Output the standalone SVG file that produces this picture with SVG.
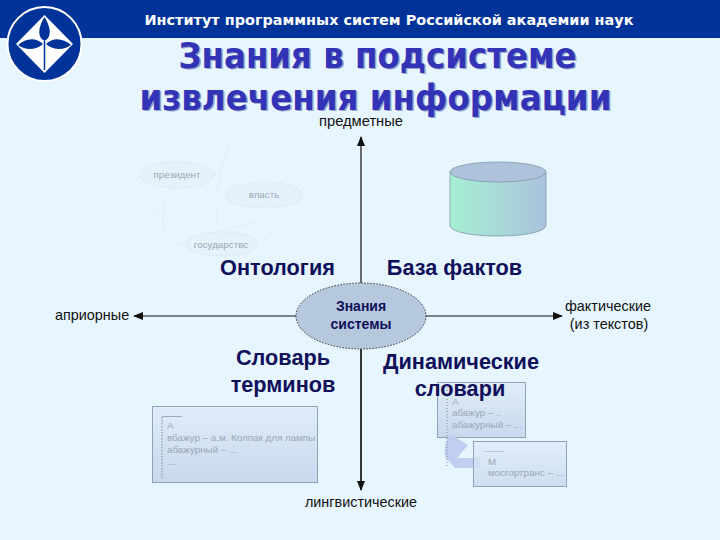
<svg xmlns="http://www.w3.org/2000/svg" width="720" height="540" viewBox="0 0 720 540">
<style>
.h{font-family:"DejaVu Sans","Liberation Sans",sans-serif;font-weight:700}
.a{font-family:"Liberation Sans",Arial,sans-serif}
.ax{font-size:14.4px;fill:#111}
.b{font-size:21.7px;font-weight:700;fill:#10105a;text-anchor:middle}
.t{font-size:36px;text-anchor:middle}
.g{font-size:9.8px;fill:#9aa6b4}
.o{fill:#e6f2fb;stroke:#c6d2dc;stroke-width:.8;stroke-dasharray:1.5 2.5}
.w{fill:none;stroke:#d4e0ea;stroke-width:.8;stroke-dasharray:1.5 2}
.card{stroke:#8fa2b8;stroke-width:1}
.l{stroke:#111;stroke-width:1.2;fill:none}
</style>
<defs>
<linearGradient id="card" x1="0" y1="0" x2="0" y2="1"><stop offset="0" stop-color="#e0ecf8"/><stop offset="1" stop-color="#c8d9ec"/></linearGradient>
<linearGradient id="cyl" x1="0" y1="0" x2="1" y2="0"><stop offset="0" stop-color="#a6f0d2"/><stop offset="1" stop-color="#a9c2dc"/></linearGradient>
<marker id="arr" markerWidth="10" markerHeight="8" refX="9" refY="4" orient="auto" markerUnits="userSpaceOnUse"><path d="M0 0L10 4L0 8Z" fill="#111"/></marker>
</defs>
<rect width="720" height="540" fill="#e6f5fe"/>
<rect id="header" width="720" height="38" fill="#003399"/>
<g id="logo">
<circle cx="44.500" cy="44" r="37" fill="#003399" stroke="#fff" stroke-width="2"/>
<path d="M44.500 15L73 44L44.500 73L16 44Z" fill="#fff"/>
<path d="M44.500 17C37 29 38 38 44.500 41C51 38 52 29 44.500 17Z" fill="#003399"/>
<path d="M18 45C26 38 36 37 43 44C36 50 26 51 18 45Z" fill="#003399"/>
<path d="M71 45C63 38 53 37 46 44C53 50 63 51 71 45Z" fill="#003399"/>
<path d="M44.500 41V70" stroke="#003399" stroke-width="1.500"/>
</g>
<text class="h" x="389" y="25" font-size="14" fill="#fff" text-anchor="middle" textLength="489" lengthAdjust="spacingAndGlyphs">Институт программных систем Российской академии наук</text>
<g id="title">
<text class="h t" x="379" y="69" fill="#9aa6c6" textLength="398" lengthAdjust="spacingAndGlyphs">Знания в подсистеме</text>
<text class="h t" x="377.500" y="67.500" fill="#3333b8" textLength="398" lengthAdjust="spacingAndGlyphs">Знания в подсистеме</text>
<text class="h t" x="377" y="111" fill="#9aa6c6" textLength="472" lengthAdjust="spacingAndGlyphs">извлечения информации</text>
<text class="h t" x="375.500" y="109.500" fill="#3333b8" textLength="472" lengthAdjust="spacingAndGlyphs">извлечения информации</text>
</g>
<g id="connectors">
<path class="l" d="M361 490V137" marker-end="url(#arr)"/>
<path class="l" d="M361 283V490" marker-end="url(#arr)"/>
<path class="l" d="M361 316H134" marker-end="url(#arr)"/>
<path class="l" d="M361 316H562" marker-end="url(#arr)"/>
</g>
<g id="ontology-sketch">
<path class="w" d="M229 147C222 165 219 180 217 189M217 207V225M215 232L258 221M173 190C160 204 160 225 168 236C172 241 180 245 188 244M149 214L158 211M263 241L272 232"/>
<ellipse class="o" cx="177" cy="175" rx="37" ry="13"/>
<text class="a g" x="177" y="178" text-anchor="middle">президент</text>
<ellipse class="o" cx="264" cy="195" rx="38" ry="13"/>
<text class="a g" x="264" y="198" text-anchor="middle">власть</text>
<ellipse class="o" cx="222" cy="244" rx="36" ry="12"/>
<text class="a g" x="221" y="248" text-anchor="middle">государствс</text>
</g>
<g id="fact-base">
<path d="M450 172V225C450 232 472 236 498 236S546 232 546 225V172Z" fill="url(#cyl)" stroke="#7f97a8" stroke-width=".8"/>
<ellipse cx="498" cy="172" rx="48" ry="10" fill="#aec2dc" stroke="#7f97a8" stroke-width=".8"/>
</g>
<g id="center">
<ellipse cx="361" cy="316" rx="65" ry="33" fill="#b6c8de" stroke="#333" stroke-width="1" stroke-dasharray="1.5 1.5"/>
<text class="a" x="361" y="311" font-size="14" font-weight="700" fill="#10105a" text-anchor="middle">Знания</text>
<text class="a" x="361" y="329" font-size="14" font-weight="700" fill="#10105a" text-anchor="middle">системы</text>
</g>
<g id="axis-labels">
<text class="a ax" x="361" y="126" text-anchor="middle" textLength="84" lengthAdjust="spacingAndGlyphs">предметные</text>
<text class="a ax" x="361" y="507" text-anchor="middle">лингвистические</text>
<text class="a ax" x="55" y="320">априорные</text>
<text class="a ax" x="608" y="311" text-anchor="middle">фактические</text>
<text class="a ax" x="609" y="329" text-anchor="middle">(из текстов)</text>
</g>
<g id="dict">
<rect class="card" x="152.500" y="406.500" width="165" height="76" fill="url(#card)"/>
<path d="M162 416.500H182" stroke="#8a9aa8" stroke-width=".8"/>
<path d="M162 417V478" stroke="#7a8a98" stroke-dasharray="1.500 1.500"/>
<g class="a g"><text x="167" y="429">А</text><text x="167" y="441">вбажур – а,м. Колпак для лампы</text><text x="167" y="453">абажурный – ...</text><text x="167" y="465">...</text></g>
</g>
<g id="dyn-dict">
<rect class="card" x="437.500" y="382.500" width="88" height="55" fill="url(#card)"/>
<path d="M450 434L468 445L457 458H480V468H455L446 458C443 450 445 442 450 434Z" fill="#c0cff0"/>
<path d="M447 384V467" stroke="#7a8a98" stroke-dasharray="1 2"/>
<g class="a g"><text x="452" y="405">А</text><text x="452" y="416">абажур – ..</text><text x="452" y="428">абажурный – ...</text></g>
<rect class="card" x="473.500" y="441.500" width="93" height="45" fill="url(#card)" fill-opacity=".8"/>
<path d="M485 451.500H504" stroke="#b4c2d0" stroke-width=".8"/>
<g class="a g"><text x="488" y="465">М</text><text x="488" y="476">мосгортранс – ...</text></g>
</g>
<g id="labels">
<text class="a b" x="277.500" y="275">Онтология</text>
<text class="a b" x="454.500" y="275">База фактов</text>
<text class="a b" x="283" y="365">Словарь</text>
<text class="a b" x="283" y="392">терминов</text>
<text class="a b" x="461" y="369">Динамические</text>
<text class="a b" x="460" y="396">словари</text>
</g>
</svg>
